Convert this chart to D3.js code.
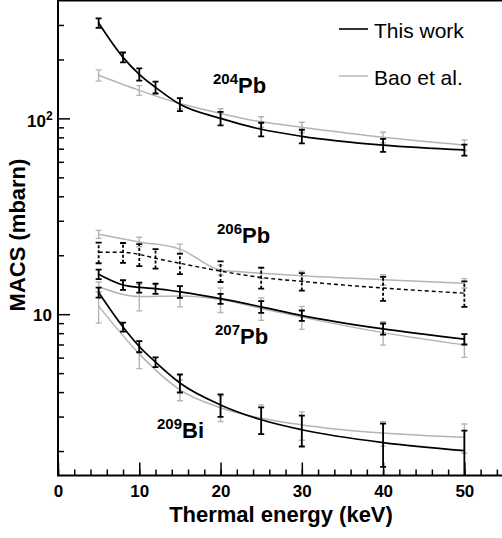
<!DOCTYPE html>
<html lang="en">
<head>
  <meta charset="UTF-8" />
  <title>MACS vs thermal energy</title>
  <script src="https://d3js.org/d3.v7.min.js"></script>
  <style>
    body {
      margin: 0;
      background: #fff;
      font-family: "Liberation Sans", Arial, Helvetica, sans-serif;
    }
    svg {
      display: block;
    }
    .tick-label {
      font-size: 17px;
      font-weight: bold;
      fill: #000;
    }
    .title {
      font-size: 22px;
      font-weight: bold;
      fill: #000;
    }
    .iso {
      font-weight: bold;
      fill: #000;
    }
    .legend {
      font-size: 21px;
      fill: #000;
    }
  </style>
</head>
<body>
  <svg></svg>

  <script>
    // energies (keV)
    const energyThis = [5, 8, 10, 12, 15, 20, 25, 30, 40, 50];
    const energyBao = [5, 10, 15, 20, 25, 30, 40, 50];

    // this work (mbarn)
    const pb204This = [307, 205, 168, 144, 118, 100, 88, 81, 73, 69];
    const pb204ThisErr = [17, 12, 12, 10, 9, 8, 7, 6.5, 5.5, 4.5];
    const pb206This = [20.7, 20.7, 20.2, 19.3, 18.2, 16.6, 15.4, 14.7, 13.6, 12.8];
    const pb206ThisErr = [2.5, 2.4, 2.6, 2.2, 2.2, 2.0, 1.9, 1.5, 1.9, 1.9];
    const pb207This = [16.0, 14.1, 13.7, 13.5, 13.0, 12.0, 10.9, 9.84, 8.41, 7.45];
    const pb207ThisErr = [0.9, 0.8, 0.8, 0.8, 0.9, 0.7, 0.75, 0.6, 0.55, 0.45];
    const bi209This = [12.9, 8.6, 6.84, 5.69, 4.45, 3.44, 2.89, 2.57, 2.21, 2.01];
    const bi209ThisErr = [0.75, 0.45, 0.45, 0.33, 0.47, 0.45, 0.45, 0.46, 0.55, 0.53];

    // Bao et al. (mbarn)
    const pb204Bao = [166, 139, 119, 106, 96, 90, 80, 73];
    const pb204BaoErr = [11, 8, 7, 6, 6, 5.5, 5, 4.5];
    const pb206Bao = [25.6, 23.4, 21.5, 16.8, 16.2, 15.7, 15.0, 14.4];
    const pb206BaoErr = [1.2, 1.3, 1.3, 1.0, 1.0, 0.9, 0.9, 0.8];
    const pb207Bao = [13.8, 12.3, 12.4, 11.9, 10.7, 9.66, 8.05, 6.97];
    const pb207BaoErr = [0.8, 1.9, 1.5, 1.7, 1.4, 1.3, 1.1, 0.95];
    const bi209Bao = [11.0, 6.27, 4.11, 3.33, 2.94, 2.72, 2.47, 2.35];
    const bi209BaoErr = [2.0, 1.0, 0.5, 0.5, 0.5, 0.45, 0.35, 0.4];

    const xTicks = [0, 10, 20, 30, 40, 50];
    const legendLabels = ["This work", "Bao et al."];

    const width = 502;
    const height = 538;
    const plotLeft = 58, plotTop = 0.5, plotBottom = 475.5;

    const black = "#000";
    const gray = "#b4b4b4";

    const svg = d3.select("svg")
      .attr("width", width)
      .attr("height", height);

    const x = d3.scaleLinear().domain([0, 55]).range([plotLeft, 505]);
    const y = d3.scaleLog().domain([1.5, 400]).range([plotBottom, plotTop]);

    svg.append("clipPath").attr("id", "plot")
      .append("rect")
      .attr("x", plotLeft).attr("y", plotTop)
      .attr("width", width - plotLeft).attr("height", plotBottom - plotTop);

    const series = [
      { xs: energyBao, ys: pb204Bao, es: pb204BaoErr, color: gray, w: 1.5, dash: null },
      { xs: energyBao, ys: pb206Bao, es: pb206BaoErr, color: gray, w: 1.5, dash: null },
      { xs: energyBao, ys: pb207Bao, es: pb207BaoErr, color: gray, w: 1.5, dash: null },
      { xs: energyBao, ys: bi209Bao, es: bi209BaoErr, color: gray, w: 1.5, dash: null },
      { xs: energyThis, ys: pb204This, es: pb204ThisErr, color: black, w: 1.7, dash: null },
      { xs: energyThis, ys: pb206This, es: pb206ThisErr, color: black, w: 1.4, dash: "4,3" },
      { xs: energyThis, ys: pb207This, es: pb207ThisErr, color: black, w: 1.7, dash: null },
      { xs: energyThis, ys: bi209This, es: bi209ThisErr, color: black, w: 1.7, dash: null }
    ];

    const line = d3.line()
      .x(d => x(d[0]))
      .y(d => y(d[1]))
      .curve(d3.curveMonotoneX);

    const plot = svg.append("g").attr("clip-path", "url(#plot)");

    series.forEach(s => {
      const pts = s.xs.map((e, i) => [e, s.ys[i], s.es[i]]);
      const g = plot.append("g");

      g.append("path")
        .datum(pts)
        .attr("d", line)
        .attr("fill", "none")
        .attr("stroke", s.color)
        .attr("stroke-width", s.w)
        .attr("stroke-dasharray", s.dash);

      const bars = g.selectAll("g.err")
        .data(pts)
        .enter()
        .append("g")
        .attr("stroke", s.color)
        .attr("stroke-width", s.color === black ? 1.8 : 1.4);

      bars.append("line")
        .attr("x1", d => x(d[0])).attr("x2", d => x(d[0]))
        .attr("y1", d => y(Math.max(d[1] - d[2], 1.2)))
        .attr("y2", d => y(d[1] + d[2]))
        .attr("stroke-dasharray", s.dash ? "3,2" : null);

      [1, -1].forEach(sign => {
        bars.append("line")
          .attr("x1", d => x(d[0]) - 3).attr("x2", d => x(d[0]) + 3)
          .attr("y1", d => y(d[1] + sign * d[2]))
          .attr("y2", d => y(d[1] + sign * d[2]));
      });
    });

    // frame
    svg.append("path")
      .attr("d", `M${width},${plotTop}H${plotLeft}V${plotBottom}H${width}`)
      .attr("fill", "none")
      .attr("stroke", "#000")
      .attr("stroke-width", 2);

    // x axis ticks (inside)
    const xMinor = d3.range(0, 56, 2);
    svg.append("g")
      .attr("transform", `translate(0,${plotBottom})`)
      .call(d3.axisBottom(x).tickValues(xMinor).tickSize(-6).tickFormat(""))
      .call(g => g.select(".domain").remove())
      .call(g => g.selectAll("line").attr("stroke-width", 1.5));

    const xAxis = svg.append("g")
      .attr("transform", `translate(0,${plotBottom})`)
      .call(d3.axisBottom(x).tickValues(xTicks).tickSize(-13).tickPadding(9))
      .call(g => g.select(".domain").remove());
    xAxis.selectAll("line").attr("stroke-width", 1.5);
    xAxis.selectAll("text")
      .attr("class", "tick-label")
      .attr("font-family", null)
      .attr("font-size", null);

    // y axis ticks (inside)
    const yMinor = [2, 3, 4, 5, 6, 7, 8, 9, 20, 30, 40, 50, 60, 70, 80, 90, 200, 300];
    svg.append("g")
      .attr("transform", `translate(${plotLeft},0)`)
      .call(d3.axisLeft(y).tickValues(yMinor).tickSize(-6).tickFormat(""))
      .call(g => g.select(".domain").remove())
      .call(g => g.selectAll("line").attr("stroke-width", 1.5));

    svg.append("g")
      .attr("transform", `translate(${plotLeft},0)`)
      .call(d3.axisLeft(y).tickValues([10, 100]).tickSize(-12).tickFormat(""))
      .call(g => g.select(".domain").remove())
      .call(g => g.selectAll("line").attr("stroke-width", 1.5));

    svg.append("text")
      .attr("class", "tick-label")
      .attr("x", 52).attr("y", y(10) + 7)
      .attr("text-anchor", "end")
      .text("10");

    const t100 = svg.append("text")
      .attr("class", "tick-label")
      .attr("x", 27).attr("y", y(100) + 9);
    t100.append("tspan").text("10");
    t100.append("tspan").attr("dy", -7).style("font-size", "12px").text("2");

    // axis titles
    svg.append("text")
      .attr("class", "title")
      .attr("x", 281).attr("y", 522)
      .attr("text-anchor", "middle")
      .text("Thermal energy (keV)");

    svg.append("text")
      .attr("class", "title")
      .attr("transform", `translate(25,235) rotate(-90)`)
      .attr("text-anchor", "middle")
      .text("MACS (mbarn)");

    // isotope labels
    const isoLabels = [
      { mass: "204", el: "Pb", x: 213, y: 93 },
      { mass: "206", el: "Pb", x: 217, y: 243 },
      { mass: "207", el: "Pb", x: 215, y: 344 },
      { mass: "209", el: "Bi", x: 157, y: 438 }
    ];
    isoLabels.forEach(l => {
      const t = svg.append("text").attr("class", "iso").attr("x", l.x).attr("y", l.y);
      t.append("tspan").attr("dy", -9).style("font-size", "15px").text(l.mass);
      t.append("tspan").attr("dy", 9).style("font-size", "22px").text(l.el);
    });

    // legend
    const legend = svg.append("g");
    legendLabels.forEach((name, i) => {
      const ly = 29 + i * 47;
      legend.append("line")
        .attr("x1", 339).attr("x2", 368)
        .attr("y1", ly).attr("y2", ly)
        .attr("stroke", i === 0 ? "#333" : gray)
        .attr("stroke-width", i === 0 ? 2 : 1.4);
      legend.append("text")
        .attr("class", "legend")
        .attr("x", 374).attr("y", ly + 9)
        .text(name);
    });
  </script>
</body>
</html>
